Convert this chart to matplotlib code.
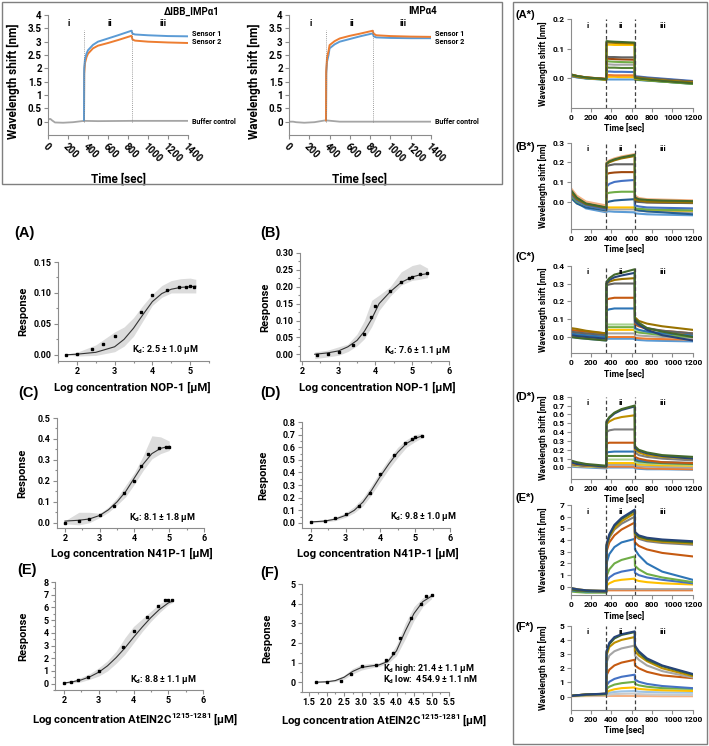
import matplotlib
matplotlib.use('Agg')
import matplotlib.pyplot as plt
from matplotlib.patches import Rectangle
from matplotlib.ticker import AutoMinorLocator, FormatStrFormatter

plt.rcParams['font.family'] = ['Roboto', 'DejaVu Sans']
plt.rcParams['font.weight'] = 'bold'
plt.rcParams['axes.labelweight'] = 'bold'
plt.rcParams['mathtext.fontset'] = 'custom'
plt.rcParams['mathtext.rm'] = 'Roboto:bold'
plt.rcParams['mathtext.bf'] = 'Roboto:bold'
plt.rcParams['mathtext.it'] = 'Roboto:bold'

# ---------------- top box: sensorgrams ----------------
T_BUF = [0, 10, 25, 40, 70, 150, 250, 360, 500, 835, 1000, 1400]
buf_1 = [0.05, 0.10, 0.10, 0.05, -0.03, -0.04, -0.02, 0.03, 0.02, 0.03, 0.03, 0.03]
buf_2 = [0.0, 0.0, 0.0, 0.0, -0.02, -0.04, -0.02, 0.05, 0.0, 0.0, 0.0, 0.0]

T_S1 = [360, 362, 370, 385, 400, 450, 500, 600, 700, 835, 845, 870, 1000, 1200, 1400]
imp1_sensor1 = [0.05, 2.0, 2.35, 2.55, 2.68, 2.88, 3.0, 3.12, 3.24, 3.41, 3.30, 3.27, 3.24, 3.21, 3.20]
imp1_sensor2 = [0.05, 1.8, 2.2, 2.42, 2.55, 2.75, 2.85, 2.95, 3.06, 3.22, 3.08, 3.04, 3.00, 2.97, 2.95]
T_S2 = [365, 367, 375, 390, 400, 450, 500, 600, 700, 825, 835, 860, 1000, 1200, 1400]
imp4_sensor1 = [0.05, 1.9, 2.4, 2.65, 2.87, 3.02, 3.12, 3.22, 3.30, 3.41, 3.30, 3.24, 3.21, 3.19, 3.18]
imp4_sensor2 = [0.05, 1.8, 2.25, 2.5, 2.75, 2.9, 3.0, 3.1, 3.2, 3.31, 3.20, 3.16, 3.14, 3.13, 3.13]

# ---------------- dose-response panels (A)-(F) ----------------
a_x = [1.7, 2.0, 2.4, 2.7, 3.0, 3.7, 4.0, 4.4, 4.7, 4.9, 5.0, 5.1]
a_y = [0.000, 0.001, 0.009, 0.017, 0.031, 0.070, 0.097, 0.104, 0.109, 0.109, 0.111, 0.110]
a_fx = [1.7, 2.0, 2.5, 3.0, 3.25, 3.5, 3.75, 4.0, 4.25, 4.5, 4.75, 5.0, 5.15]
a_fy = [0.0, 0.001, 0.004, 0.013, 0.025, 0.043, 0.065, 0.086, 0.099, 0.106, 0.109, 0.110, 0.111]
a_lo = [0.0, -0.002, -0.001, 0.005, 0.014, 0.030, 0.055, 0.080, 0.093, 0.100, 0.100, 0.100, 0.100]
a_hi = [0.001, 0.004, 0.016, 0.037, 0.045, 0.060, 0.080, 0.098, 0.112, 0.120, 0.123, 0.124, 0.122]

b_x = [2.4, 2.7, 3.0, 3.4, 3.7, 3.88, 4.0, 4.4, 4.7, 4.9, 5.0, 5.2, 5.4]
b_y = [-0.001, 0.0, 0.008, 0.026, 0.059, 0.109, 0.142, 0.187, 0.215, 0.226, 0.230, 0.239, 0.242]
b_fx = [2.35, 2.7, 3.0, 3.25, 3.5, 3.7, 3.9, 4.1, 4.4, 4.7, 5.0, 5.2, 5.42]
b_fy = [0.0, 0.004, 0.010, 0.022, 0.041, 0.068, 0.105, 0.150, 0.185, 0.213, 0.229, 0.235, 0.239]
b_lo = [-0.013, -0.008, -0.003, 0.008, 0.025, 0.046, 0.082, 0.130, 0.172, 0.205, 0.219, 0.222, 0.227]
b_hi = [0.007, 0.012, 0.022, 0.030, 0.060, 0.100, 0.160, 0.175, 0.200, 0.244, 0.263, 0.268, 0.255]

c_x = [2.0, 2.4, 2.7, 3.0, 3.4, 3.7, 4.0, 4.2, 4.4, 4.7, 4.9, 5.0]
c_y = [0.0, 0.010, 0.019, 0.038, 0.079, 0.140, 0.198, 0.270, 0.330, 0.357, 0.362, 0.362]
c_fx = [2.0, 2.4, 2.7, 3.0, 3.25, 3.5, 3.75, 4.0, 4.25, 4.5, 4.75, 5.0]
c_fy = [0.008, 0.012, 0.018, 0.035, 0.062, 0.100, 0.150, 0.215, 0.280, 0.330, 0.355, 0.365]
c_lo = [-0.005, -0.010, 0.0, 0.025, 0.050, 0.085, 0.125, 0.185, 0.250, 0.305, 0.330, 0.345]
c_hi = [0.010, 0.050, 0.050, 0.045, 0.075, 0.120, 0.180, 0.240, 0.320, 0.415, 0.410, 0.390]

d_x = [2.0, 2.4, 2.7, 3.0, 3.4, 3.7, 4.0, 4.4, 4.7, 4.9, 5.0, 5.2]
d_y = [0.005, 0.018, 0.037, 0.071, 0.131, 0.241, 0.388, 0.541, 0.630, 0.669, 0.685, 0.693]
d_fx = [2.0, 2.4, 2.7, 3.0, 3.25, 3.5, 3.75, 4.0, 4.25, 4.5, 4.75, 5.0, 5.2]
d_fy = [0.008, 0.015, 0.030, 0.060, 0.100, 0.165, 0.260, 0.370, 0.470, 0.560, 0.630, 0.670, 0.690]
d_lo = [0.0, 0.008, 0.018, 0.045, 0.080, 0.135, 0.225, 0.330, 0.430, 0.520, 0.600, 0.645, 0.675]
d_hi = [0.012, 0.025, 0.045, 0.080, 0.130, 0.200, 0.300, 0.410, 0.510, 0.600, 0.660, 0.700, 0.710]

e_x = [2.0, 2.2, 2.4, 2.7, 3.0, 3.7, 4.0, 4.4, 4.7, 4.9, 5.0, 5.1]
e_y = [0.05, 0.16, 0.29, 0.52, 1.02, 2.92, 4.17, 5.21, 6.09, 6.56, 6.56, 6.56]
e_fx = [2.0, 2.25, 2.5, 2.75, 3.0, 3.25, 3.5, 3.75, 4.0, 4.25, 4.5, 4.75, 5.0, 5.13]
e_fy = [0.05, 0.15, 0.30, 0.55, 0.90, 1.40, 2.05, 2.80, 3.65, 4.45, 5.20, 5.85, 6.35, 6.50]
e_lo = [0.0, 0.05, 0.15, 0.35, 0.60, 1.00, 1.60, 2.30, 3.20, 4.10, 4.90, 5.60, 6.20, 6.40]
e_hi = [0.10, 0.25, 0.50, 0.80, 1.25, 1.80, 2.55, 3.60, 4.50, 5.10, 5.70, 6.30, 6.60, 6.60]

f_x = [1.7, 2.0, 2.4, 2.7, 3.0, 3.4, 3.7, 3.9, 4.1, 4.4, 4.7, 4.85, 5.0]
f_y = [0.0, 0.03, 0.085, 0.425, 0.80, 0.885, 1.14, 1.50, 2.24, 3.28, 4.0, 4.37, 4.44]
f_fx = [1.7, 2.0, 2.25, 2.5, 2.75, 3.0, 3.25, 3.5, 3.75, 4.0, 4.25, 4.5, 4.75, 5.0]
f_fy = [0.0, 0.02, 0.08, 0.25, 0.55, 0.75, 0.82, 0.88, 1.05, 1.60, 2.60, 3.50, 4.10, 4.38]
f_lo = [-0.02, 0.0, 0.03, 0.15, 0.42, 0.62, 0.72, 0.80, 0.95, 1.35, 2.20, 3.15, 3.85, 4.25]
f_hi = [0.02, 0.05, 0.15, 0.35, 0.70, 0.90, 0.95, 0.98, 1.20, 1.90, 3.00, 3.85, 4.30, 4.50]

# ---------------- right column: kinetic traces (A*)-(F*) ----------------
T_KIN = [0, 60, 150, 350, 352, 380, 430, 500, 630, 632, 670, 750, 900, 1200]

a_star_colors = ['#43682B', '#997300', '#FFC000', '#636363', '#9E480E', '#70AD47',
                 '#A5A5A5', '#548235', '#4472C4', '#ED7D31', '#FFC000', '#5B9BD5']
a_star = [
    [0.012, 0.007, 0.002, -0.004, 0.125, 0.124, 0.123, 0.122, 0.120, 0.000, -0.002, -0.005, -0.010, -0.018],
    [0.010, 0.006, 0.001, -0.005, 0.121, 0.120, 0.119, 0.118, 0.117, 0.002, 0.000, -0.003, -0.008, -0.015],
    [0.011, 0.006, 0.001, -0.005, 0.113, 0.113, 0.112, 0.112, 0.112, -0.002, -0.003, -0.005, -0.009, -0.016],
    [0.008, 0.004, 0.000, -0.004, 0.072, 0.071, 0.071, 0.070, 0.070, 0.004, 0.003, 0.000, -0.004, -0.012],
    [0.012, 0.007, 0.002, -0.003, 0.066, 0.065, 0.064, 0.063, 0.062, 0.003, 0.001, -0.002, -0.006, -0.012],
    [0.009, 0.004, -0.001, -0.006, 0.057, 0.056, 0.055, 0.054, 0.053, -0.003, -0.004, -0.007, -0.012, -0.020],
    [0.007, 0.003, 0.000, -0.004, 0.046, 0.046, 0.045, 0.045, 0.045, 0.000, -0.001, -0.004, -0.008, -0.015],
    [0.008, 0.004, 0.000, -0.005, 0.036, 0.035, 0.035, 0.034, 0.034, -0.005, -0.006, -0.008, -0.012, -0.019],
    [0.006, 0.003, -0.001, -0.004, 0.022, 0.022, 0.021, 0.021, 0.020, 0.006, 0.005, 0.002, -0.002, -0.010],
    [0.012, 0.007, 0.002, -0.003, 0.010, 0.010, 0.009, 0.009, 0.009, -0.002, -0.003, -0.005, -0.009, -0.015],
    [0.010, 0.006, 0.001, -0.004, 0.004, 0.004, 0.004, 0.003, 0.003, -0.004, -0.005, -0.007, -0.010, -0.016],
    [0.006, 0.002, -0.002, -0.006, -0.005, -0.005, -0.005, -0.005, -0.005, -0.006, -0.007, -0.009, -0.012, -0.020],
]

b_star_colors = ['#43682B', '#F4B183', '#997300', '#636363', '#9E480E', '#4472C4',
                 '#70AD47', '#255E91', '#FFC000', '#A5A5A5', '#5B9BD5']
b_star = [
    [0.06, 0.02, -0.01, -0.03, 0.195, 0.205, 0.215, 0.225, 0.238, 0.020, 0.012, 0.008, 0.005, 0.002],
    [0.07, 0.03, 0.00, -0.02, 0.200, 0.210, 0.220, 0.230, 0.242, 0.030, 0.018, 0.012, 0.010, 0.006],
    [0.05, 0.015, -0.012, -0.03, 0.190, 0.200, 0.210, 0.220, 0.232, 0.010, 0.005, 0.000, -0.002, -0.005],
    [0.045, 0.01, -0.015, -0.035, 0.180, 0.185, 0.190, 0.190, 0.190, 0.000, -0.002, -0.005, -0.006, -0.008],
    [0.05, 0.015, -0.01, -0.03, 0.140, 0.145, 0.148, 0.150, 0.150, 0.005, 0.000, -0.003, -0.005, -0.007],
    [0.04, 0.005, -0.02, -0.04, 0.075, 0.090, 0.100, 0.105, 0.110, -0.020, -0.025, -0.030, -0.032, -0.035],
    [0.03, 0.0, -0.02, -0.04, 0.040, 0.045, 0.048, 0.050, 0.050, -0.035, -0.037, -0.040, -0.042, -0.045],
    [0.02, -0.01, -0.03, -0.045, -0.005, 0.000, 0.005, 0.008, 0.012, -0.040, -0.045, -0.050, -0.055, -0.065],
    [0.04, 0.005, -0.02, -0.04, -0.030, -0.030, -0.030, -0.030, -0.030, -0.040, -0.042, -0.044, -0.045, -0.047],
    [0.05, 0.01, -0.025, -0.05, -0.040, -0.040, -0.040, -0.040, -0.040, -0.045, -0.047, -0.050, -0.052, -0.055],
    [0.03, -0.005, -0.035, -0.055, -0.050, -0.050, -0.052, -0.053, -0.055, -0.060, -0.062, -0.065, -0.067, -0.070],
]

c_star_colors = ['#43682B', '#264478', '#997300', '#636363', '#C55A11', '#2E75B6',
                 '#A9D18E', '#70AD47', '#FFC000', '#A5A5A5', '#ED7D31', '#5B9BD5']
c_star = [
    [0.00, -0.005, -0.01, -0.02, 0.31, 0.33, 0.35, 0.36, 0.38, 0.10, 0.08, 0.05, 0.03, 0.00],
    [0.01, 0.005, 0.00, -0.01, 0.30, 0.32, 0.335, 0.345, 0.36, 0.09, 0.07, 0.04, 0.01, -0.02],
    [0.05, 0.045, 0.035, 0.02, 0.30, 0.31, 0.32, 0.325, 0.33, 0.11, 0.09, 0.075, 0.06, 0.04],
    [0.03, 0.025, 0.02, 0.01, 0.29, 0.295, 0.30, 0.30, 0.30, 0.08, 0.065, 0.05, 0.035, 0.02],
    [0.04, 0.035, 0.03, 0.02, 0.21, 0.215, 0.22, 0.22, 0.22, 0.07, 0.06, 0.045, 0.035, 0.02],
    [0.02, 0.015, 0.01, 0.00, 0.15, 0.155, 0.16, 0.16, 0.16, 0.05, 0.04, 0.03, 0.02, 0.01],
    [0.03, 0.025, 0.02, 0.01, 0.07, 0.07, 0.07, 0.07, 0.07, 0.04, 0.035, 0.03, 0.02, 0.01],
    [0.02, 0.015, 0.01, 0.00, 0.055, 0.055, 0.055, 0.055, 0.055, 0.03, 0.025, 0.02, 0.01, 0.00],
    [0.03, 0.025, 0.02, 0.015, 0.04, 0.04, 0.04, 0.04, 0.04, 0.03, 0.028, 0.025, 0.02, 0.015],
    [0.02, 0.015, 0.01, 0.00, 0.02, 0.02, 0.02, 0.02, 0.02, 0.01, 0.008, 0.005, 0.00, -0.005],
    [0.01, 0.005, 0.00, -0.01, 0.00, 0.00, 0.00, 0.00, 0.00, -0.005, -0.007, -0.01, -0.012, -0.015],
    [0.00, -0.005, -0.01, -0.02, -0.01, -0.01, -0.01, -0.01, -0.01, -0.015, -0.017, -0.02, -0.022, -0.025],
]

d_star_colors = ['#43682B', '#264478', '#BF9000', '#7F7F7F', '#C55A11', '#2E75B6',
                 '#548235', '#A9D18E', '#FFC000', '#A5A5A5', '#ED7D31', '#5B9BD5']
d_star = [
    [0.08, 0.06, 0.04, 0.02, 0.52, 0.57, 0.62, 0.66, 0.70, 0.24, 0.20, 0.17, 0.14, 0.12],
    [0.06, 0.04, 0.03, 0.01, 0.51, 0.56, 0.61, 0.65, 0.69, 0.22, 0.19, 0.16, 0.13, 0.10],
    [0.05, 0.035, 0.025, 0.01, 0.49, 0.52, 0.55, 0.57, 0.59, 0.20, 0.17, 0.14, 0.12, 0.10],
    [0.05, 0.035, 0.025, 0.01, 0.40, 0.42, 0.43, 0.43, 0.43, 0.17, 0.14, 0.12, 0.10, 0.08],
    [0.04, 0.03, 0.02, 0.01, 0.27, 0.28, 0.28, 0.28, 0.28, 0.12, 0.10, 0.08, 0.06, 0.05],
    [0.04, 0.03, 0.02, 0.01, 0.17, 0.175, 0.18, 0.18, 0.18, 0.09, 0.08, 0.07, 0.06, 0.05],
    [0.04, 0.03, 0.02, 0.01, 0.13, 0.13, 0.13, 0.13, 0.13, 0.08, 0.07, 0.06, 0.05, 0.04],
    [0.03, 0.02, 0.015, 0.005, 0.09, 0.09, 0.09, 0.09, 0.09, 0.06, 0.05, 0.045, 0.04, 0.03],
    [0.03, 0.02, 0.015, 0.005, 0.05, 0.05, 0.05, 0.05, 0.05, 0.04, 0.035, 0.03, 0.025, 0.02],
    [0.02, 0.015, 0.01, 0.00, 0.03, 0.03, 0.03, 0.03, 0.03, 0.02, 0.015, 0.01, 0.005, 0.00],
    [0.02, 0.015, 0.01, 0.00, 0.01, 0.01, 0.01, 0.01, 0.01, 0.00, -0.005, -0.01, -0.015, -0.02],
    [0.01, 0.005, 0.00, -0.01, 0.00, 0.00, 0.00, 0.00, 0.00, -0.01, -0.015, -0.02, -0.02, -0.025],
]

e_star_colors = ['#264478', '#43682B', '#BF9000', '#7F7F7F', '#C55A11', '#2E75B6',
                 '#70AD47', '#4472C4', '#FFC000', '#A5A5A5', '#ED7D31']
e_star = [
    [-0.1, -0.2, -0.3, -0.35, 3.6, 4.5, 5.3, 5.9, 6.6, 4.7, 4.4, 4.2, 4.05, 3.9],
    [-0.2, -0.3, -0.35, -0.4, 3.5, 4.4, 5.2, 5.8, 6.5, 4.6, 4.3, 4.1, 3.95, 3.8],
    [-0.1, -0.2, -0.3, -0.35, 3.4, 4.3, 5.0, 5.6, 6.3, 4.5, 4.2, 4.0, 3.85, 3.7],
    [-0.2, -0.3, -0.35, -0.4, 3.3, 4.2, 4.9, 5.4, 6.0, 4.4, 4.1, 3.9, 3.75, 3.6],
    [-0.2, -0.3, -0.35, -0.4, 3.0, 3.8, 4.4, 4.9, 5.5, 3.8, 3.5, 3.2, 2.9, 2.6],
    [-0.3, -0.35, -0.4, -0.45, 2.0, 2.8, 3.4, 3.8, 4.1, 3.2, 2.7, 2.0, 1.3, 0.6],
    [-0.4, -0.45, -0.5, -0.5, 0.9, 1.5, 2.0, 2.3, 2.6, 1.8, 1.5, 1.1, 0.8, 0.4],
    [-0.3, -0.35, -0.4, -0.45, 0.4, 0.8, 1.1, 1.3, 1.5, 1.2, 1.0, 0.8, 0.6, 0.3],
    [-0.2, -0.3, -0.35, -0.4, 0.1, 0.3, 0.5, 0.6, 0.7, 0.6, 0.5, 0.4, 0.3, 0.2],
    [-0.3, -0.35, -0.4, -0.4, -0.2, -0.2, -0.2, -0.2, -0.2, -0.2, -0.2, -0.2, -0.2, -0.2],
    [-0.3, -0.35, -0.4, -0.4, -0.3, -0.3, -0.3, -0.3, -0.3, -0.3, -0.3, -0.3, -0.3, -0.3],
]

f_star_colors = ['#264478', '#43682B', '#BF9000', '#A5A5A5', '#C55A11', '#4472C4',
                 '#70AD47', '#FFC000', '#9DC3E6', '#C9C9C9', '#F4B183']
f_star = [
    [0.05, 0.10, 0.15, 0.22, 3.2, 3.8, 4.2, 4.4, 4.6, 3.6, 3.2, 2.7, 2.2, 1.6],
    [0.05, 0.10, 0.15, 0.20, 3.1, 3.7, 4.1, 4.35, 4.55, 3.5, 3.1, 2.6, 2.15, 1.55],
    [0.05, 0.10, 0.15, 0.20, 2.9, 3.5, 3.8, 4.0, 4.2, 3.2, 2.9, 2.5, 2.0, 1.45],
    [0.05, 0.10, 0.15, 0.20, 2.4, 2.9, 3.2, 3.4, 3.6, 2.9, 2.6, 2.2, 1.8, 1.35],
    [0.05, 0.10, 0.15, 0.20, 1.5, 1.9, 2.2, 2.4, 2.6, 2.2, 2.0, 1.75, 1.5, 1.3],
    [0.05, 0.08, 0.12, 0.18, 0.8, 1.05, 1.25, 1.4, 1.55, 1.2, 1.05, 0.9, 0.75, 0.6],
    [0.05, 0.08, 0.12, 0.18, 0.55, 0.7, 0.85, 0.95, 1.05, 0.9, 0.8, 0.7, 0.6, 0.55],
    [0.05, 0.08, 0.10, 0.15, 0.3, 0.42, 0.52, 0.6, 0.65, 0.6, 0.55, 0.5, 0.45, 0.4],
    [0.05, 0.07, 0.10, 0.12, 0.2, 0.27, 0.33, 0.37, 0.4, 0.38, 0.35, 0.33, 0.3, 0.28],
    [0.05, 0.06, 0.08, 0.10, 0.1, 0.15, 0.18, 0.2, 0.22, 0.2, 0.18, 0.16, 0.14, 0.12],
    [0.02, 0.03, 0.04, 0.05, 0.05, 0.05, 0.05, 0.05, 0.05, 0.04, 0.04, 0.04, 0.03, 0.03],
]

W, H = 709, 746
fig = plt.figure(figsize=(W / 100, H / 100), dpi=100)
AX_COL = '#8c8c8c'


def box_axes(l, t, r, b):
    return fig.add_axes([l / W, 1 - b / H, (r - l) / W, (b - t) / H])


def style(ax, size):
    for s in ['top', 'right']:
        ax.spines[s].set_visible(False)
    for s in ['left', 'bottom']:
        ax.spines[s].set_color(AX_COL)
        ax.spines[s].set_linewidth(0.8)
    ax.tick_params(which='both', color=AX_COL, labelsize=size, direction='out', width=0.8)
    ax.tick_params(which='major', length=3, pad=1.5)
    ax.tick_params(which='minor', length=1.5)
    for lab in ax.get_xticklabels() + ax.get_yticklabels():
        lab.set_fontweight('bold')
    ax.patch.set_alpha(0)


# frames
fig.patches.append(Rectangle((2 / W, 1 - 184 / H), 500 / W, 182 / H, transform=fig.transFigure,
                             fill=False, ec='#7f7f7f', lw=1))
fig.patches.append(Rectangle((513 / W, 1 - 744 / H), 194 / W, 742 / H, transform=fig.transFigure,
                             fill=False, ec='#7f7f7f', lw=1))


def top_panel(l, r, title, title_x, buf, t_s, top_s, top_c, low_s, low_c, dashes, phase_x):
    ax = box_axes(l, 15, r, 135)
    style(ax, 7)
    ax.plot(T_BUF, buf, color='#A5A5A5', lw=1.3)
    ax.plot(t_s, low_s, color=low_c, lw=1.4)
    ax.plot(t_s, top_s, color=top_c, lw=1.4)
    for d in dashes:
        ax.plot([d, d], [0, 3.45], color='#7f7f7f', lw=0.6, ls=(0, (1, 1.5)))
    ax.set_xlim(0, 1400)
    ax.set_ylim(-0.5, 4)
    ax.set_xticks(range(0, 1401, 200))
    ax.set_xticklabels([str(v) for v in range(0, 1401, 200)], rotation=-45, ha='left',
                       rotation_mode='anchor', fontweight='bold')
    ax.set_yticks([0, 0.5, 1, 1.5, 2, 2.5, 3, 3.5, 4])
    ax.set_yticklabels(['0', '0.5', '1', '1.5', '2', '2.5', '3', '3.5', '4'], fontweight='bold')
    ax.set_ylabel('Wavelength shift [nm]', fontsize=8.5)
    ax.yaxis.set_label_coords(-0.2, 0.45)
    ax.set_xlabel('Time [sec]', fontsize=8.5)
    ax.xaxis.set_label_coords(0.5, -0.31)
    for x, s in zip(phase_x, ['i', 'ii', 'iii']):
        ax.text(x, 3.7, s, ha='center', va='center', fontsize=6.5)
    ax.text(title_x, 1.03, title, transform=ax.transAxes, ha='center', va='center', fontsize=7)
    ax.text(1.03, (3.28 + 0.5) / 4.5, 'Sensor 1', transform=ax.transAxes, ha='left',
            va='center', fontsize=5.3)
    ax.text(1.03, (3.0 + 0.5) / 4.5, 'Sensor 2', transform=ax.transAxes, ha='left',
            va='center', fontsize=5.3)
    ax.text(1.03, 0.5 / 4.5, 'Buffer control', transform=ax.transAxes, ha='left',
            va='center', fontsize=5.0)
    return ax


top_panel(48, 188, 'ΔIBB_IMPα1', 1.03, buf_1, T_S1, imp1_sensor1, '#5B9BD5', imp1_sensor2,
          '#ED7D31', [362, 835], [210, 620, 1147])
top_panel(289, 431, 'IMPα4', 0.94, buf_2, T_S2, imp4_sensor1, '#ED7D31', imp4_sensor2,
          '#5B9BD5', [365, 825], [214, 618, 1121])


def dose_panel(box, px, py, fx, fy, lo, hi, xlim, ylim, xticks, yticks, fmt_x, fmt_y,
               xlabel, xl_coords, yl_x, letter, letter_xy):
    ax = box_axes(*box)
    ax.fill_between(fx, lo, hi, color='#dcdcdc', lw=0)
    ax.plot(fx, fy, color='#333333', lw=0.8)
    ax.plot(px, py, 's', color='black', ms=2.0)
    ax.set_xlim(*xlim)
    ax.set_ylim(*ylim)
    ax.set_xticks(xticks)
    ax.set_yticks(yticks)
    ax.xaxis.set_major_formatter(FormatStrFormatter(fmt_x))
    ax.yaxis.set_major_formatter(FormatStrFormatter(fmt_y))
    ax.xaxis.set_minor_locator(AutoMinorLocator(2))
    ax.yaxis.set_minor_locator(AutoMinorLocator(2))
    style(ax, 6.5)
    ax.set_ylabel('Response', fontsize=8)
    ax.yaxis.set_label_coords(yl_x, 0.5)
    ax.set_xlabel(xlabel, fontsize=8.2)
    ax.xaxis.set_label_coords(*xl_coords)
    fig.text(letter_xy[0] / W, 1 - letter_xy[1] / H, letter, ha='left', va='center',
             fontsize=10.5, family='Liberation Sans', weight='bold')
    return ax


XL_NOP = 'Log concentration NOP-1 [µM]'
XL_N41 = 'Log concentration N41P-1 [µM]'
XL_EIN = r'Log concentration AtEIN2C$^{1215\text{-}1281}$ [µM]'

ax = dose_panel((58, 262, 209, 361), a_x, a_y, a_fx, a_fy, a_lo, a_hi, (1.5, 5.5), (-0.01, 0.15),
                [2, 3, 4, 5], [0, 0.05, 0.10, 0.15], '%d', '%.2f', XL_NOP, (0.49, -0.21), -0.2,
                '(A)', (14, 233))
ax.text(0.71, 0.12, r'K$_\mathrm{d}$: 2.5 ± 1.0 µM', transform=ax.transAxes, ha='center',
        va='center', fontsize=6.5)

ax = dose_panel((300, 253, 449, 361), b_x, b_y, b_fx, b_fy, b_lo, b_hi, (1.95, 6), (-0.02, 0.30),
                [2, 3, 4, 5, 6], [0, 0.05, 0.10, 0.15, 0.20, 0.25, 0.30], '%d', '%.2f', XL_NOP,
                (0.52, -0.19), -0.2, '(B)', (260, 233))
ax.text(0.79, 0.10, r'K$_\mathrm{d}$: 7.6 ± 1.1 µM', transform=ax.transAxes, ha='center',
        va='center', fontsize=6.5)

ax = dose_panel((57, 418, 204, 528), c_x, c_y, c_fx, c_fy, c_lo, c_hi, (1.77, 6), (-0.025, 0.5),
                [2, 3, 4, 5, 6], [0, 0.1, 0.2, 0.3, 0.4, 0.5], '%d', '%.1f', XL_N41,
                (0.51, -0.18), -0.2, '(C)', (18, 393))
ax.text(0.72, 0.10, r'K$_\mathrm{d}$: 8.1 ± 1.8 µM', transform=ax.transAxes, ha='center',
        va='center', fontsize=6.5)

ax = dose_panel((302, 422, 450, 528), d_x, d_y, d_fx, d_fy, d_lo, d_hi, (1.75, 6), (-0.04, 0.8),
                [2, 3, 4, 5, 6], [0, 0.1, 0.2, 0.3, 0.4, 0.5, 0.6, 0.7, 0.8], '%d', '%.1f', XL_N41,
                (0.51, -0.19), -0.23, '(D)', (260, 393))
ax.text(0.82, 0.11, r'K$_\mathrm{d}$: 9.8 ± 1.0 µM', transform=ax.transAxes, ha='center',
        va='center', fontsize=6.5)

ax = dose_panel((55, 582, 203, 690), e_x, e_y, e_fx, e_fy, e_lo, e_hi, (1.74, 6), (-0.5, 8),
                [2, 3, 4, 5, 6], list(range(0, 9)), '%d', '%d', XL_EIN,
                (0.54, -0.2), -0.18, '(E)', (17, 570))
ax.text(0.73, 0.10, r'K$_\mathrm{d}$: 8.8 ± 1.1 µM', transform=ax.transAxes, ha='center',
        va='center', fontsize=6.5)

ax = dose_panel((302, 584, 449, 692), f_x, f_y, f_fx, f_fy, f_lo, f_hi, (1.3, 5.5), (-0.5, 5),
                [1.5, 2.0, 2.5, 3.0, 3.5, 4.0, 4.5, 5.0, 5.5], list(range(0, 6)), '%.1f', '%d',
                XL_EIN, (0.56, -0.19), -0.2, '(F)', (260, 573))
ax.text(0.55, 0.22, r'K$_\mathrm{d}$ high: 21.4 ± 1.1 µM', transform=ax.transAxes, ha='left',
        va='center', fontsize=6.5)
ax.text(0.55, 0.11, r'K$_\mathrm{d}$ low:  454.9 ± 1.1 nM', transform=ax.transAxes, ha='left',
        va='center', fontsize=6.5)


def kin_panel(top, bottom, traces, colors, ylim, yticks, fmt, letter, letter_y):
    ax = box_axes(570.7, top, 692.7, bottom)
    for tr, c in zip(traces[::-1], colors[::-1]):
        ax.plot(T_KIN, tr, color=c, lw=1.5)
    for d in [350, 630]:
        ax.axvline(d, color='#404040', lw=0.9, ls=(0, (3, 2)))
    ax.set_xlim(0, 1200)
    ax.set_ylim(*ylim)
    ax.set_xticks(range(0, 1201, 200))
    ax.set_yticks(yticks)
    ax.yaxis.set_major_formatter(FormatStrFormatter(fmt))
    style(ax, 6)
    ax.set_ylabel('Wavelength shift [nm]', fontsize=6.2)
    ax.yaxis.set_label_coords(-0.185, 0.5)
    ax.set_xlabel('Time [sec]', fontsize=6.3)
    ax.xaxis.set_label_coords(0.44, -0.2)
    for x, s in zip([170, 490, 908], ['i', 'ii', 'iii']):
        ax.text(x, 0.93, s, transform=ax.get_xaxis_transform(), ha='center', va='center',
                fontsize=6)
    fig.text(516 / W, 1 - letter_y / H, letter, ha='left', va='center', fontsize=8,
             family='Liberation Sans', weight='bold')
    return ax


kin_panel(19, 107.5, a_star, a_star_colors, (-0.1, 0.2), [0.0, 0.1, 0.2], '%.1f', '(A*)', 15)
kin_panel(142.7, 229, b_star, b_star_colors, (-0.14, 0.3), [0.0, 0.1, 0.2, 0.3], '%.1f', '(B*)', 147)
kin_panel(265.7, 353, c_star, c_star_colors, (-0.09, 0.4), [0.0, 0.1, 0.2, 0.3, 0.4], '%.1f',
          '(C*)', 257)
kin_panel(396.7, 479, d_star, d_star_colors, (-0.13, 0.8),
          [0.0, 0.1, 0.2, 0.3, 0.4, 0.5, 0.6, 0.7, 0.8], '%.1f', '(D*)', 397)
kin_panel(505, 595, e_star, e_star_colors, (-0.7, 7), list(range(0, 8)), '%d', '(E*)', 498)
kin_panel(625.7, 710, f_star, f_star_colors, (-0.94, 5), list(range(0, 6)), '%d', '(F*)', 627)

fig.savefig('out.png', dpi=100)
